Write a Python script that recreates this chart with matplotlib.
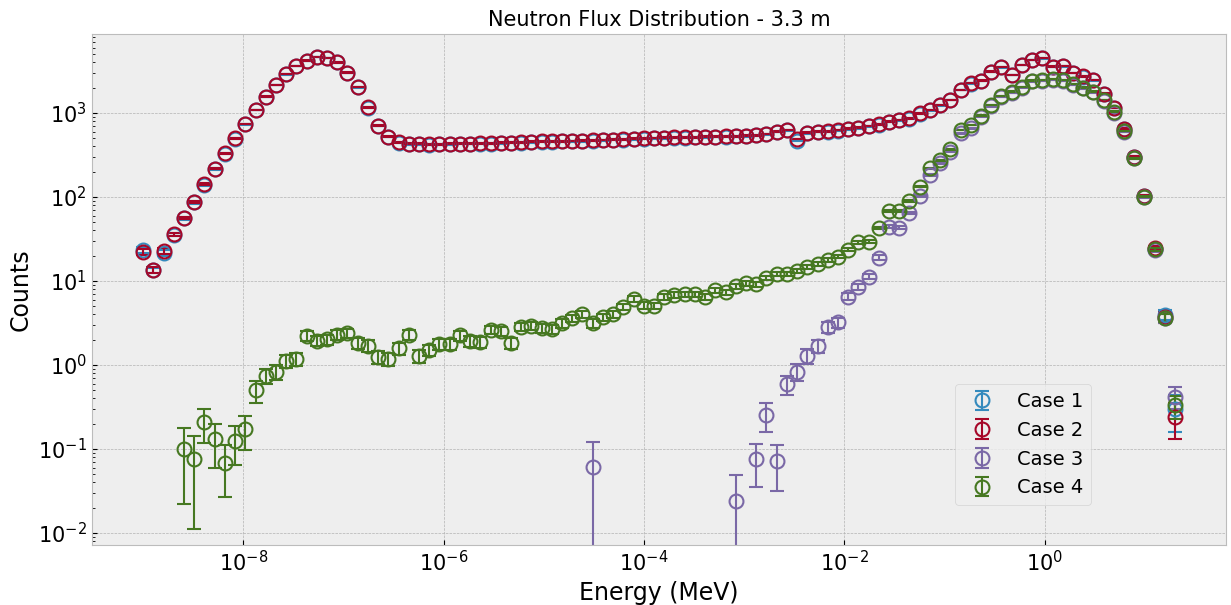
import numpy as np
import matplotlib
matplotlib.use("Agg")
import matplotlib.pyplot as plt

plt.style.use("bmh")

# Energy bins (MeV): 102 logarithmic bins from 1e-9 up to ~20 MeV
energy = np.logspace(-9.0, 1.3, 102)

nan = np.nan

case1 = [
    23.5, 13.4, 21.7, 35.5, 55.5, 86, 140, 215, 328, 494,
    730, 1080, 1555, 2140, 2870, 3610, 4180, 4660, 4540, 3990,
    3010, 2010, 1160, 700, 518, 445, 425, 424, 421, 422,
    424, 428, 427, 430, 432, 436, 440, 444, 448, 452,
    455, 458, 460, 463, 467, 472, 478, 482, 488, 492,
    497, 500, 503, 508, 511, 514, 517, 521, 525, 530,
    540, 556, 595, 625, 470, 575, 592, 598, 618, 640,
    660, 690, 727, 780, 818, 858, 982, 1075, 1235, 1418,
    1865, 2240, 2410, 3090, 3490, 2815, 3705, 4280, 4460, 3545,
    3585, 2985, 2715, 2435, 1690, 1140, 645, 300, 103, 24.2,
    3.94, 0.30,
]

case2 = [
    22.3, 13.5, 23.0, 36, 56, 87, 142, 217, 331, 500,
    740, 1086, 1564, 2154, 2886, 3630, 4200, 4680, 4550, 4000,
    3030, 2024, 1170, 706, 522, 448, 428, 428, 425, 425,
    428, 432, 432, 434, 436, 440, 445, 450, 456, 458,
    460, 462, 464, 468, 472, 477, 483, 488, 494, 499,
    503, 507, 511, 513, 516, 519, 522, 526, 530, 535,
    545, 562, 600, 628, 490, 580, 600, 605, 628, 650,
    670, 700, 735, 789, 826, 865, 991, 1086, 1245, 1429,
    1879, 2256, 2425, 3107, 3510, 2833, 3728, 4300, 4480, 3560,
    3600, 3000, 2730, 2450, 1700, 1150, 650, 302, 104, 24.5,
    3.7, 0.24,
]

case3 = [nan] * 44 + [0.0605] + [nan] * 13 + [
    0.0243, nan, 0.0753, 0.254, 0.072, 0.589, 0.833, 1.28, 1.68, 2.81,
    3.22, 6.5, 8.5, 11.3, 19.0, 44.3, 43.1, 64, 103, 183,
    252, 346, 573, 657, 903, 1200, 1540, 1740, 2000, 2380,
    2420, 2470, 2420, 2170, 1960, 1760, 1400, 1010, 595, 290,
    100, 23.5, 3.6, 0.42,
]

case4 = [nan] * 4 + [
    0.100, 0.076, 0.207, 0.130, 0.069, 0.126, 0.171,
    0.50, 0.746, 0.833, 1.12, 1.17, 2.23, 1.93, 2.02, 2.28, 2.38,
    1.81, 1.70, 1.26, 1.17, 1.58, 2.28, 1.28, 1.51, 1.76, 1.76,
    2.25, 1.92, 1.87, 2.63, 2.54, 1.84, 2.86, 2.94, 2.73, 2.66,
    3.13, 3.59, 4.05, 3.13, 3.70, 4.05, 4.95, 6.05, 5.10, 5.08,
    6.5, 6.8, 6.94, 6.94, 6.5, 7.8, 7.33, 8.7, 9.4, 9.1,
    10.8, 12.1, 12.1, 13.2, 14.6, 15.8, 17.8, 19.5, 23.4, 29.0,
    29.4, 42.4, 67.5, 68.5, 89.6, 133, 219, 275, 369, 628,
    720, 930, 1245, 1593, 1795, 2056, 2425, 2472, 2518, 2472,
    2215, 2004, 1795, 1429, 1037, 610, 289, 101, 23.8, 3.66,
    0.33,
]

case1_err = [
    1.9, 1.0, 1.8, 1.5, 2.0, 2.5, 3.2, 4.0, 4.9, 6.0,
    7.3, 8.9, 10.7, 12.5, 14.5, 16.3, 17.5, 18.5, 18.2, 17.1,
    14.9, 12.1, 9.2, 7.2, 6.2, 5.7, 5.6, 5.6, 5.6, 5.6,
    5.6, 5.6, 5.6, 5.6, 5.6, 5.7, 5.7, 5.7, 5.8, 5.8,
    5.8, 5.8, 5.8, 5.8, 5.9, 5.9, 5.9, 6.0, 6.0, 6.0,
    6.1, 6.1, 6.1, 6.1, 6.1, 6.2, 6.2, 6.2, 6.2, 6.2,
    6.3, 6.4, 6.6, 6.8, 6.0, 6.5, 6.6, 6.6, 6.8, 6.9,
    7.0, 7.1, 7.3, 7.6, 7.8, 7.9, 8.5, 8.9, 9.5, 10.2,
    11.7, 12.8, 13.3, 15.0, 16.0, 14.4, 16.5, 17.7, 18.1, 16.1,
    16.2, 14.8, 14.1, 13.4, 11.1, 9.2, 6.9, 4.7, 2.8, 1.3,
    0.54, 0.14,
]

case2_err = [
    1.8, 1.0, 1.8, 1.5, 2.0, 2.5, 3.2, 4.0, 4.9, 6.0,
    7.3, 8.9, 10.7, 12.5, 14.5, 16.3, 17.5, 18.5, 18.2, 17.1,
    14.9, 12.1, 9.2, 7.2, 6.2, 5.7, 5.6, 5.6, 5.6, 5.6,
    5.6, 5.6, 5.6, 5.6, 5.6, 5.7, 5.7, 5.7, 5.8, 5.8,
    5.8, 5.8, 5.8, 5.8, 5.9, 5.9, 5.9, 6.0, 6.0, 6.0,
    6.1, 6.1, 6.1, 6.1, 6.1, 6.2, 6.2, 6.2, 6.2, 6.2,
    6.3, 6.4, 6.6, 6.8, 6.0, 6.5, 6.6, 6.6, 6.8, 6.9,
    7.0, 7.1, 7.3, 7.6, 7.8, 7.9, 8.5, 8.9, 9.5, 10.2,
    11.7, 12.8, 13.3, 15.0, 16.0, 14.4, 16.5, 17.7, 18.1, 16.1,
    16.2, 14.8, 14.1, 13.4, 11.1, 9.2, 6.9, 4.7, 2.8, 1.3,
    0.52, 0.11,
]

case3_err = [nan] * 44 + [0.062] + [nan] * 13 + [
    0.0245, nan, 0.040, 0.094, 0.040, 0.15, 0.18, 0.25, 0.31, 0.42,
    0.45, 0.6, 0.7, 0.8, 1.1, 1.6, 1.6, 2.0, 2.4, 3.2,
    3.8, 4.4, 5.7, 6.1, 7.2, 8.2, 9.3, 9.9, 10.6, 11.6,
    11.7, 11.8, 11.7, 11.1, 10.6, 10.0, 8.9, 7.5, 5.8, 4.0,
    2.4, 1.2, 0.45, 0.12,
]

case4_err = [nan] * 4 + [
    0.078, 0.065, 0.09, 0.07, 0.042, 0.061, 0.073,
    0.145, 0.16, 0.17, 0.2, 0.2, 0.29, 0.27, 0.28, 0.3, 0.3,
    0.27, 0.26, 0.22, 0.21, 0.25, 0.3, 0.22, 0.24, 0.26, 0.26,
    0.3, 0.27, 0.27, 0.32, 0.31, 0.27, 0.33, 0.34, 0.33, 0.32,
    0.35, 0.38, 0.4, 0.35, 0.38, 0.4, 0.44, 0.49, 0.45, 0.45,
    0.51, 0.52, 0.53, 0.53, 0.51, 0.56, 0.54, 0.59, 0.61, 0.6,
    0.66, 0.7, 0.7, 0.73, 0.76, 0.8, 0.84, 0.88, 0.97, 1.08,
    1.08, 1.3, 1.64, 1.65, 1.9, 2.3, 3.0, 3.3, 3.8, 5.0,
    5.4, 6.1, 7.1, 8.0, 8.5, 9.1, 9.8, 9.9, 10.0, 9.9,
    9.4, 9.0, 8.5, 7.6, 6.4, 4.9, 3.4, 2.0, 0.98, 0.38,
    0.10,
]

labels = ["Case 1", "Case 2", "Case 3", "Case 4"]
series = [case1, case2, case3, case4]
errors = [case1_err, case2_err, case3_err, case4_err]

fig = plt.figure(figsize=(12.31, 6.05), dpi=100)
ax = fig.add_axes([0.0745, 0.0992, 0.9214, 0.8446])

for lab, vals, err in zip(labels, series, errors):
    ax.errorbar(energy, np.array(vals, dtype=float), yerr=np.array(err, dtype=float),
                fmt="o", mfc="none", ms=10, mew=1.5, capsize=5,
                elinewidth=1.5, capthick=1.5, label=lab)

ax.set_xscale("log")
ax.set_yscale("log")
ax.set_xlim(10 ** -9.513, 10 ** 1.807)
ax.set_ylim(10 ** -2.143, 10 ** 3.94)

ax.set_title("Neutron Flux Distribution - 3.3 m", fontsize=15)
ax.set_xlabel("Energy (MeV)", fontsize=17)
ax.set_ylabel("Counts", fontsize=17)
ax.tick_params(axis="both", which="major", labelsize=15)

ax.legend(loc="lower right", bbox_to_anchor=(0.881, 0.078), borderaxespad=0,
          fontsize=14)

fig.savefig("out.png", dpi=100)
